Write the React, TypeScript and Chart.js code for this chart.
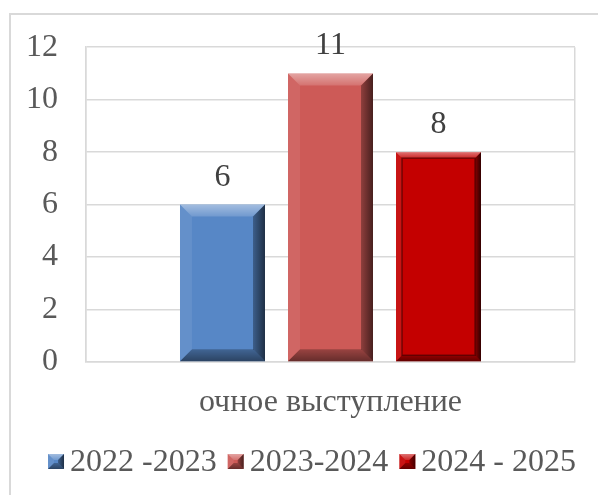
import React, { useEffect, useRef } from "react";
import { Chart, registerables } from "chart.js";

Chart.register(...registerables);

const categories = ["очное выступление"];
const seriesLabels = ["2022 -2023", "2023-2024", "2024 - 2025"];
const values2022 = [6];
const values2023 = [11];
const values2024 = [8];
const seriesColors = ["#5787c6", "#cd5a57", "#c40000"];
const bevelSizes = [12, 12, 6];
const yMin = 0;
const yMax = 12;
const yStep = 2;

const FONT = "'Liberation Serif', 'Times New Roman', serif";
const FONT_SIZE = 32;

function drawBevel(ctx: CanvasRenderingContext2D, l: number, t: number, r: number, bot: number, b: number, strong: boolean) {
  const w = r - l;
  const h = bot - t;
  b = Math.min(b, w / 2, h / 2);
  ctx.save();
  // top
  let g = ctx.createLinearGradient(0, t, 0, t + b);
  g.addColorStop(0, "rgba(255,255,255,0.45)");
  g.addColorStop(1, "rgba(255,255,255,0.15)");
  ctx.fillStyle = g;
  ctx.beginPath();
  ctx.moveTo(l, t); ctx.lineTo(r, t); ctx.lineTo(r - b, t + b); ctx.lineTo(l + b, t + b); ctx.closePath();
  ctx.fill();
  // left
  ctx.fillStyle = "rgba(255,255,255,0.08)";
  ctx.beginPath();
  ctx.moveTo(l, t); ctx.lineTo(l + b, t + b); ctx.lineTo(l + b, bot - b); ctx.lineTo(l, bot); ctx.closePath();
  ctx.fill();
  // right
  g = ctx.createLinearGradient(r - b, 0, r, 0);
  g.addColorStop(0, "rgba(0,0,0,0.3)");
  g.addColorStop(1, strong ? "rgba(0,0,0,0.75)" : "rgba(0,0,0,0.65)");
  ctx.fillStyle = g;
  ctx.beginPath();
  ctx.moveTo(r, t); ctx.lineTo(r, bot); ctx.lineTo(r - b, bot - b); ctx.lineTo(r - b, t + b); ctx.closePath();
  ctx.fill();
  // bottom
  g = ctx.createLinearGradient(0, bot - b, 0, bot);
  g.addColorStop(0, "rgba(0,0,0,0.25)");
  g.addColorStop(1, "rgba(0,0,0,0.5)");
  ctx.fillStyle = g;
  ctx.beginPath();
  ctx.moveTo(l, bot); ctx.lineTo(r, bot); ctx.lineTo(r - b, bot - b); ctx.lineTo(l + b, bot - b); ctx.closePath();
  ctx.fill();
  if (strong) {
    ctx.strokeStyle = "rgba(60,0,0,0.6)";
    ctx.lineWidth = 1.5;
    ctx.strokeRect(l + b, t + b, w - 2 * b, h - 2 * b);
  }
  ctx.restore();
}

const bevelPlugin = {
  id: "bevel",
  afterDatasetsDraw(chart: any) {
    const ctx = chart.ctx;
    chart.data.datasets.forEach((ds: any, i: number) => {
      const meta = chart.getDatasetMeta(i);
      meta.data.forEach((bar: any) => {
        const { x, y, base, width } = bar.getProps(["x", "y", "base", "width"], true);
        drawBevel(ctx, x - width / 2, y, x + width / 2, base, bevelSizes[i], i === 2);
      });
    });
  },
};

const valueLabelPlugin = {
  id: "valueLabels",
  afterDatasetsDraw(chart: any) {
    const ctx = chart.ctx;
    ctx.save();
    ctx.font = `${FONT_SIZE}px ${FONT}`;
    ctx.fillStyle = "#404040";
    ctx.textAlign = "center";
    ctx.textBaseline = "alphabetic";
    chart.data.datasets.forEach((ds: any, i: number) => {
      const meta = chart.getDatasetMeta(i);
      meta.data.forEach((bar: any, j: number) => {
        ctx.fillText(String(ds.data[j]), bar.x, bar.y - 19);
      });
    });
    ctx.restore();
  },
};

const legendPlugin = {
  id: "customLegend",
  afterDraw(chart: any) {
    const ctx = chart.ctx;
    ctx.save();
    ctx.font = `${FONT_SIZE}px ${FONT}`;
    const boxW = 16;
    const boxH = 15;
    const gapBoxText = 6;
    const gapItems = 11;
    const items = chart.data.datasets.map((ds: any) => ({
      label: ds.label as string,
      color: ds.backgroundColor as string,
      w: ctx.measureText(ds.label).width,
    }));
    const total = items.reduce((s: number, it: any) => s + boxW + gapBoxText + it.w, 0) + gapItems * (items.length - 1);
    const centerX = chart.width / 2 + 13;
    const baseline = chart.chartArea.bottom + 109;
    let x = centerX - total / 2;
    items.forEach((it: any) => {
      const top = baseline - 9.5 - boxH / 2;
      ctx.fillStyle = it.color;
      ctx.fillRect(x, top, boxW, boxH);
      drawBevel(ctx, x, top, x + boxW, top + boxH, 6, false);
      x += boxW + gapBoxText;
      ctx.fillStyle = "#595959";
      ctx.textAlign = "left";
      ctx.textBaseline = "alphabetic";
      ctx.fillText(it.label, x, baseline);
      x += it.w + gapItems;
    });
    ctx.restore();
  },
};

export default function App() {
  const ref = useRef<HTMLCanvasElement | null>(null);
  useEffect(() => {
    document.body.style.margin = "0";
    if (!ref.current) return;
    const chart = new Chart(ref.current, {
      type: "bar",
      data: {
        labels: categories,
        datasets: [
          { label: seriesLabels[0], data: values2022, backgroundColor: seriesColors[0] },
          { label: seriesLabels[1], data: values2023, backgroundColor: seriesColors[1] },
          { label: seriesLabels[2], data: values2024, backgroundColor: seriesColors[2] },
        ],
      },
      options: {
        responsive: false,
        animation: false,
        devicePixelRatio: 1,
        datasets: { bar: { categoryPercentage: 0.6626, barPercentage: 0.787 } },
        layout: { padding: { left: 26, right: 23, top: 44, bottom: 73 } },
        plugins: { legend: { display: false }, tooltip: { enabled: false } },
        scales: {
          x: {
            grid: { color: "#d9d9d9", lineWidth: 1.5, drawTicks: false },
            border: { color: "#d9d9d9", width: 1.5 },
            ticks: { color: "#595959", font: { family: FONT, size: FONT_SIZE }, padding: 21 },
            afterFit: (s: any) => { s.height = 60; },
          },
          y: {
            min: yMin,
            max: yMax,
            grid: { color: "#d9d9d9", lineWidth: 1.5, drawTicks: false },
            border: { color: "#d9d9d9", width: 1.5 },
            ticks: { stepSize: yStep, color: "#595959", font: { family: FONT, size: FONT_SIZE }, padding: 28 },
            afterFit: (s: any) => { s.width = 60; },
          },
        },
      },
      plugins: [bevelPlugin, valueLabelPlugin, legendPlugin],
    });
    return () => chart.destroy();
  }, []);
  return (
    <div style={{ position: "relative", width: 598, height: 495, overflow: "hidden", background: "#fff" }}>
      <div
        style={{
          position: "absolute",
          left: 9,
          top: 13,
          width: 640,
          height: 540,
          border: "2px solid #d9d9d9",
        }}
      />
      <canvas ref={ref} width={598} height={495} style={{ position: "absolute", left: 0, top: 0, width: 598, height: 495 }} />
    </div>
  );
}
